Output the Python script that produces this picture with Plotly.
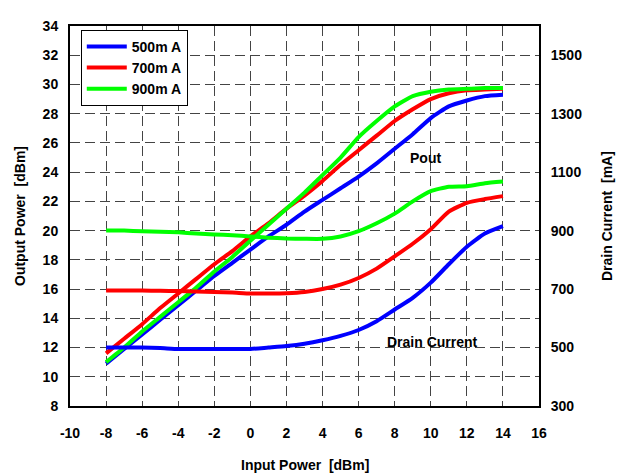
import plotly.graph_objects as go

x_in = list(range(-8, 15))

pout_500 = [10.9, 11.9, 12.9, 13.9, 14.9, 15.9, 16.9, 17.8, 18.7, 19.6, 20.4, 21.3, 22.1, 22.9, 23.7, 24.6, 25.6, 26.6, 27.7, 28.5, 28.9, 29.2, 29.3]
pout_700 = [11.6, 12.6, 13.6, 14.7, 15.7, 16.7, 17.7, 18.6, 19.6, 20.5, 21.5, 22.4, 23.4, 24.5, 25.5, 26.5, 27.5, 28.3, 29.0, 29.4, 29.6, 29.65, 29.7]
pout_900 = [11.0, 12.0, 13.1, 14.1, 15.1, 16.1, 17.2, 18.2, 19.3, 20.4, 21.5, 22.6, 23.8, 25.0, 26.4, 27.5, 28.5, 29.2, 29.5, 29.65, 29.7, 29.75, 29.75]

id_500 = [500, 500, 500, 498, 495, 495, 495, 495, 495, 500, 505, 513, 525, 540, 560, 590, 630, 670, 722, 785, 845, 890, 915]
id_700 = [695, 695, 695, 694, 693, 692, 690, 688, 685, 685, 686, 690, 700, 715, 738, 770, 812, 855, 905, 965, 995, 1008, 1018]
id_900 = [900, 900, 898, 896, 894, 890, 887, 884, 880, 876, 873, 872, 872, 880, 898, 925, 958, 1000, 1035, 1050, 1052, 1062, 1068]

names = ["500m A", "700m A", "900m A"]
colors = ["#0000FF", "#FF0000", "#00FF00"]

x_ticks = list(range(-10, 17, 2))
y_ticks = list(range(8, 35, 2))
y2_ticks = list(range(300, 1501, 200))

FONT = "Liberation Sans, Arial, sans-serif"

fig = go.Figure()
for name, col, p in zip(names, colors, [pout_500, pout_700, pout_900]):
    fig.add_trace(go.Scatter(x=x_in, y=p, mode="lines", name=f"<b>{name}</b>",
                             line=dict(color=col, width=4, shape="spline", smoothing=0.5)))
for col, d in zip(colors, [id_500, id_700, id_900]):
    fig.add_trace(go.Scatter(x=x_in, y=d, mode="lines", showlegend=False, yaxis="y2",
                             line=dict(color=col, width=4, shape="spline", smoothing=0.5)))

font_b = dict(family=FONT, size=14, color="black")
grid = dict(showgrid=True, gridcolor="#444444", griddash="10px,5px", gridwidth=1)

fig.update_layout(
    width=626, height=474,
    margin=dict(l=62, r=95, t=10, b=76),
    paper_bgcolor="white", plot_bgcolor="white",
    font=font_b,
    xaxis=dict(range=[-10, 16], tickvals=x_ticks, ticktext=[f"<b>{v}</b>" for v in x_ticks],
               showline=True, linecolor="black", linewidth=2, mirror=True,
               ticks="outside", ticklen=13, tickcolor="rgba(0,0,0,0)", zeroline=False,
               tickfont=font_b, **grid),
    yaxis=dict(range=[8, 34], tickvals=y_ticks, ticktext=[f"<b>{v}</b>" for v in y_ticks],
               showline=True, linecolor="black", linewidth=2, mirror=True,
               ticks="outside", ticklen=7, tickcolor="rgba(0,0,0,0)", zeroline=False,
               tickfont=font_b, **grid),
    yaxis2=dict(range=[300, 1600], tickvals=y2_ticks, ticktext=[f"<b>{v}</b>" for v in y2_ticks],
                overlaying="y", side="right", showgrid=False, zeroline=False,
                showline=True, linecolor="black", linewidth=2,
                ticks="outside", ticklen=7, tickcolor="rgba(0,0,0,0)", tickfont=font_b),
    legend=dict(x=0.023, y=0.99, xanchor="left", yanchor="top",
                bgcolor="white", bordercolor="black", borderwidth=1,
                font=dict(family=FONT, size=14, color="black"),
                tracegroupgap=0, itemwidth=40),
    annotations=[
        dict(x=9.7, y=25.0, xref="x", yref="y", text="<b>Pout</b>", showarrow=False, font=font_b),
        dict(x=10.1, y=12.4, xref="x", yref="y", text="<b>Drain Current</b>", showarrow=False, font=font_b),
        dict(x=0, y=0.5, xref="paper", yref="paper", xshift=-50, text="<b>Output Power  [dBm]</b>",
             textangle=-90, showarrow=False, font=font_b, xanchor="center", yanchor="middle"),
        dict(x=1, y=0.5, xref="paper", yref="paper", xshift=68, text="<b>Drain Current  [mA]</b>",
             textangle=-90, showarrow=False, font=font_b, xanchor="center", yanchor="middle"),
        dict(x=0.5, y=0, xref="paper", yref="paper", yshift=-59, text="<b>Input Power  [dBm]</b>",
             showarrow=False, font=font_b, xanchor="center", yanchor="middle"),
    ],
)

fig.write_html("out.html")
